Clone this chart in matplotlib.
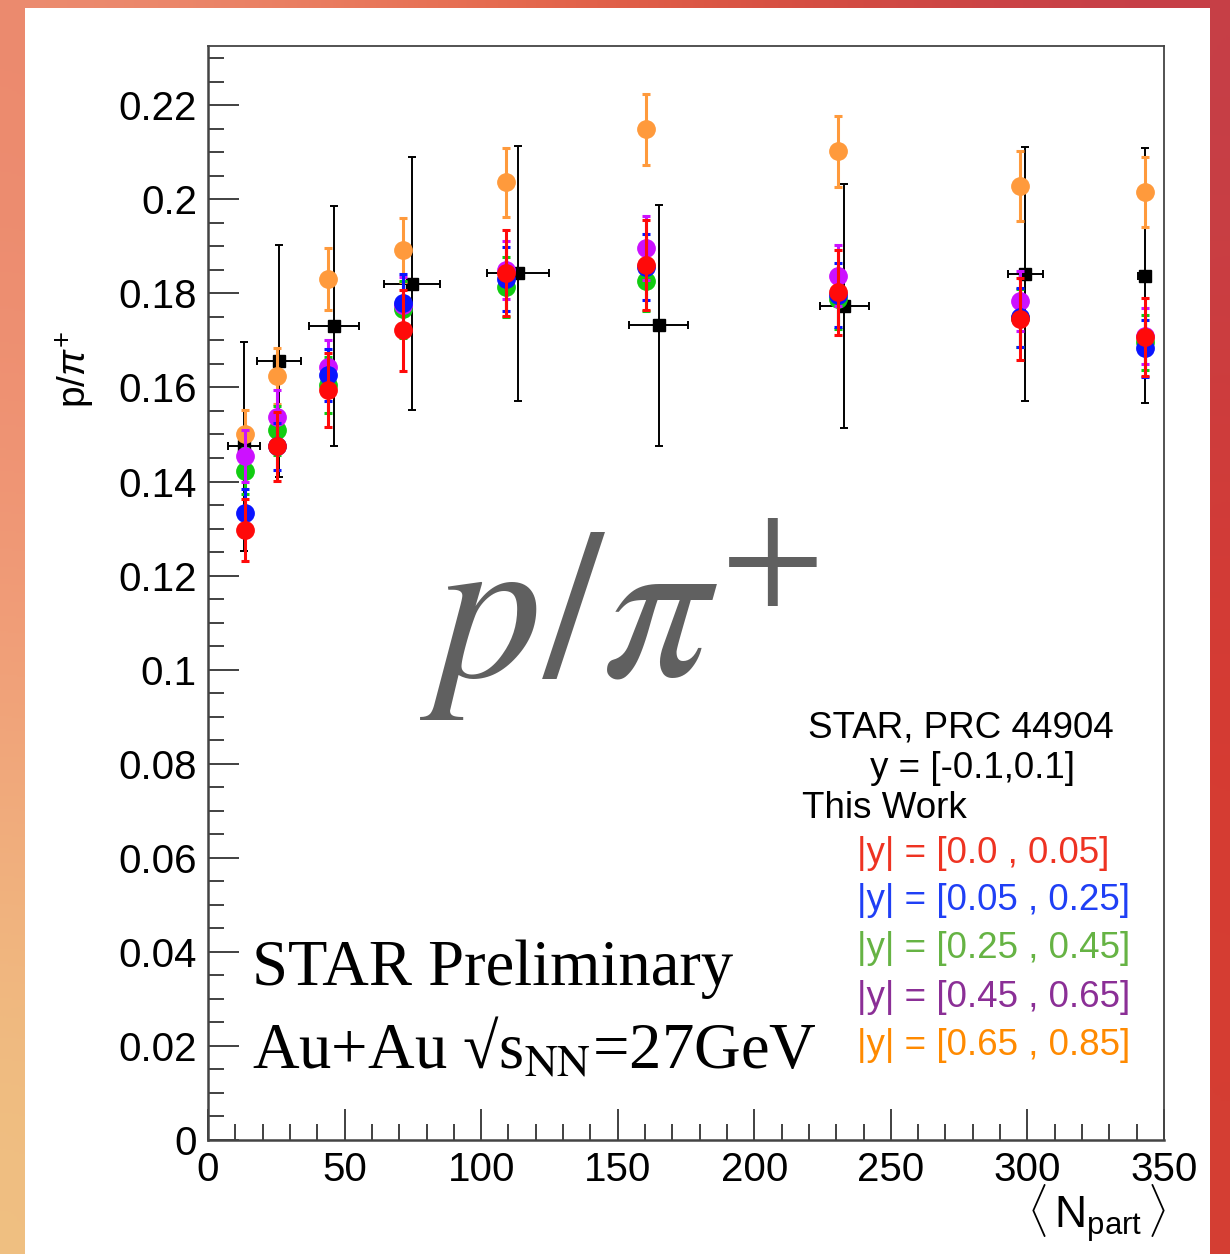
import numpy as np
import matplotlib
matplotlib.use("Agg")
import matplotlib.pyplot as plt
from matplotlib.ticker import MultipleLocator

plt.rcParams['font.family'] = ['Liberation Sans', 'DejaVu Sans']
plt.rcParams['mathtext.fontset'] = 'custom'
plt.rcParams['mathtext.rm'] = 'Liberation Sans'
plt.rcParams['mathtext.it'] = 'Liberation Sans:italic'

## Data
npart_this = [13.5, 25.3, 44.0, 71.4, 109.1, 160.4, 230.5, 297.3, 343.1]

ratio_y000_005 = [0.1297, 0.1475, 0.1594, 0.1722, 0.1843, 0.1860, 0.1802, 0.1745, 0.1707]
err_y000_005 = [0.0066, 0.0073, 0.0079, 0.0086, 0.0091, 0.0096, 0.0091, 0.0087, 0.0083]

ratio_y005_025 = [0.1333, 0.1475, 0.1626, 0.1779, 0.1830, 0.1856, 0.1796, 0.1749, 0.1683]
err_y005_025 = [0.0051, 0.0050, 0.0055, 0.0062, 0.0068, 0.0070, 0.0068, 0.0062, 0.0060]

ratio_y025_045 = [0.1422, 0.1509, 0.1605, 0.1766, 0.1813, 0.1826, 0.1788, 0.1747, 0.1696]
err_y025_045 = [0.0049, 0.0052, 0.0060, 0.0060, 0.0064, 0.0064, 0.0064, 0.0062, 0.0058]

ratio_y045_065 = [0.1454, 0.1537, 0.1643, 0.1775, 0.1850, 0.1896, 0.1838, 0.1783, 0.1710]
err_y045_065 = [0.0055, 0.0057, 0.0057, 0.0060, 0.0062, 0.0068, 0.0064, 0.0064, 0.0060]

ratio_y065_085 = [0.1500, 0.1624, 0.1830, 0.1892, 0.2036, 0.2149, 0.2102, 0.2028, 0.2015]
err_y065_085 = [0.0053, 0.0060, 0.0066, 0.0068, 0.0074, 0.0075, 0.0076, 0.0074, 0.0074]

# STAR published, PRC 96 044904
npart_star = [13.2, 26.0, 46.1, 74.7, 113.5, 165.1, 232.9, 299.2, 342.9]
npart_star_err = [5.9, 7.9, 9.0, 10.2, 11.4, 10.8, 9.0, 6.4, 2.5]
ratio_star = [0.1475, 0.1656, 0.1730, 0.1821, 0.1843, 0.1732, 0.1773, 0.1841, 0.1838]
ratio_star_err = [0.0222, 0.0246, 0.0255, 0.0268, 0.0271, 0.0256, 0.0260, 0.0270, 0.0272]

legend_labels = ["|y| = [0.0 , 0.05]", "|y| = [0.05 , 0.25]", "|y| = [0.25 , 0.45]",
                 "|y| = [0.45 , 0.65]", "|y| = [0.65 , 0.85]"]

W, H = 1230, 1254
fig = plt.figure(figsize=(W / 100, H / 100), dpi=100)

# textured slide background (smooth approximation)
bg = fig.add_axes([0, 0, 1, 1])
bg_colors = np.array([
    [[236, 140, 112], [228, 92, 62], [196, 62, 72]],
    [[242, 156, 122], [232, 100, 70], [214, 56, 48]],
    [[240, 196, 132], [230, 120, 80], [212, 60, 50]],
]) / 255.0
bg.imshow(bg_colors, extent=[0, 1, 0, 1], aspect='auto', interpolation='bicubic')
bg.set_axis_off()
fig.patches.append(plt.Rectangle((25 / W, 0), 1185 / W, 1 - 8 / H, transform=fig.transFigure,
                                 facecolor='white', edgecolor='none', zorder=1))

ax = fig.add_axes([208 / W, 1 - 1140 / H, (1164 - 208) / W, (1140 - 46) / H])
ax.set_zorder(2)

# STAR reference points
ax.errorbar(npart_star, ratio_star, xerr=npart_star_err, yerr=ratio_star_err, fmt='s',
            color='black', markersize=8.5, elinewidth=1.4, capsize=3, capthick=1.4, zorder=2)

series = [
    (ratio_y065_085, err_y065_085, '#ff9a3c', 3),
    (ratio_y025_045, err_y025_045, '#11cc11', 4),
    (ratio_y045_065, err_y045_065, '#cc11ff', 5),
    (ratio_y005_025, err_y005_025, '#0a14ff', 6),
    (ratio_y000_005, err_y000_005, '#ff0a0a', 7),
]
for vals, errs, col, z in series:
    ax.errorbar(npart_this, vals, yerr=errs, fmt='o', color=col, markersize=12.5,
                elinewidth=2.2, capsize=3, capthick=2.2, zorder=z)

ax.set_xlim(0, 350)
ax.set_ylim(0, 0.2326)
ax.xaxis.set_minor_locator(MultipleLocator(10))
ax.yaxis.set_minor_locator(MultipleLocator(0.005))
ax.set_xticks([0, 50, 100, 150, 200, 250, 300, 350])
ax.set_xticklabels(['0', '50', '100', '150', '200', '250', '300', '350'])
ax.set_yticks([0, 0.02, 0.04, 0.06, 0.08, 0.1, 0.12, 0.14, 0.16, 0.18, 0.2, 0.22])
ax.set_yticklabels(['0', '0.02', '0.04', '0.06', '0.08', '0.1', '0.12', '0.14',
                    '0.16', '0.18', '0.2', '0.22'])
ax.tick_params(which='both', direction='in', top=False, right=False, labelsize=29,
               width=1.3, color='#333333')
ax.tick_params(which='major', length=22)
ax.tick_params(which='minor', length=11.5)
ax.tick_params(axis='x', pad=8)
ax.tick_params(axis='y', pad=8)
for side in ['left', 'bottom']:
    ax.spines[side].set_linewidth(1.8)
    ax.spines[side].set_color('#444444')
for side in ['right', 'top']:
    ax.spines[side].set_linewidth(1.3)
    ax.spines[side].set_color('#444444')

# axis titles
fig.text(75 / W, 1 - 370 / H, r'p/$\pi^{+}$', rotation=90, fontsize=28, ha='center', va='center')
fig.text(1166 / W, 1 - 1229 / H, r'$\langle\,\mathrm{N}_{\mathrm{part}}\,\rangle$', fontsize=32,
         ha='right', va='baseline')

# large label
fig.text(420 / W, 1 - 677 / H, r'$p/\pi^{+}$', fontsize=153, color='#606060',
         math_fontfamily='stix', ha='left', va='baseline')

# STAR preliminary
serif = ['Liberation Serif', 'DejaVu Serif']
fig.text(252 / W, 1 - 985 / H, 'STAR Preliminary', fontsize=46.5, family=serif, ha='left', va='baseline')
fig.text(252 / W, 1 - 1068 / H, 'Au+Au \u221as$_{\\mathrm{NN}}$=27GeV', fontsize=46.5, family=serif,
         math_fontfamily='stix', ha='left', va='baseline')

# legend block
fig.text(808 / W, 1 - 737 / H, 'STAR, PRC 44904', fontsize=26.5, ha='left', va='baseline')
fig.text(870 / W, 1 - 778 / H, 'y = [-0.1,0.1]', fontsize=26.5, ha='left', va='baseline')
fig.text(802 / W, 1 - 818 / H, 'This Work', fontsize=26.5, ha='left', va='baseline')
text_colors = ['#ee3322', '#1f3ff5', '#66b344', '#8b2f96', '#ff8a00']
baselines = [863, 910, 958, 1007, 1055]
for lab, col, yb in zip(legend_labels, text_colors, baselines):
    fig.text(857 / W, 1 - yb / H, lab, fontsize=26.5, color=col, ha='left', va='baseline')

fig.savefig('out.png', dpi=100)
